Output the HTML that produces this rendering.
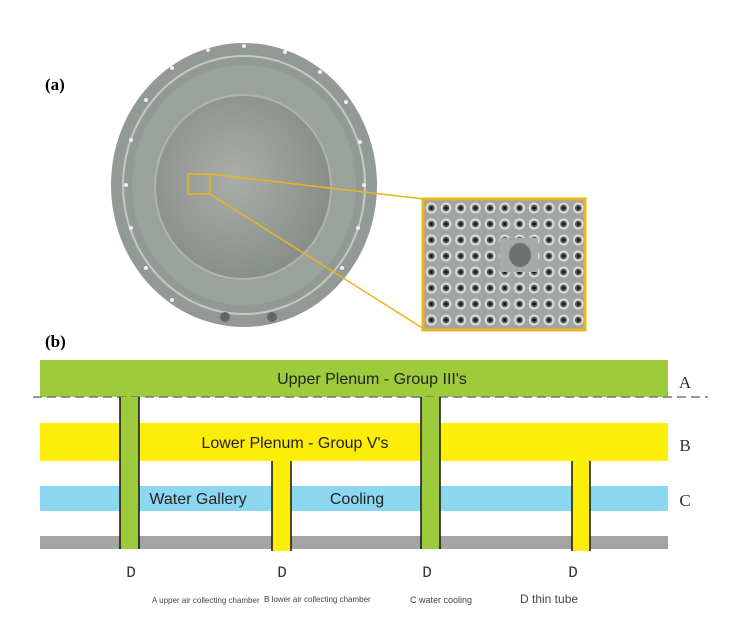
<!DOCTYPE html>
<html><head><style>
body{margin:0;background:#fff;}
svg{display:block;}
</style></head><body>
<svg width="747" height="622" viewBox="0 0 747 622" xmlns="http://www.w3.org/2000/svg">
<defs>
<radialGradient id="g1" cx="45%" cy="45%" r="60%"><stop offset="0" stop-color="#a9aeaa"/><stop offset="1" stop-color="#858b87"/></radialGradient>
<pattern id="dots" x="424" y="200" width="14.7" height="16" patternUnits="userSpaceOnUse">
<rect width="14.7" height="16" fill="#a2a5a3"/>
<circle cx="7.3" cy="8" r="5.5" fill="#dcdedc"/>
<circle cx="7.3" cy="8" r="3.4" fill="#5a5c5b"/>
<circle cx="7.3" cy="8" r="1.5" fill="#111"/>
</pattern>
</defs>
<text x="45" y="90" font-family="Liberation Serif, serif" font-weight="bold" font-size="17">(a)</text>
<ellipse cx="244" cy="185" rx="133" ry="142" fill="#939995"/>
<ellipse cx="244" cy="185" rx="121" ry="129" fill="none" stroke="#c5c9c6" stroke-width="2"/>
<ellipse cx="244" cy="185" rx="112" ry="120" fill="#9ba19d"/>
<ellipse cx="243" cy="187" rx="88" ry="92" fill="url(#g1)" stroke="#b0b4b1" stroke-width="2"/>
<g fill="#eee">
<circle cx="126" cy="185" r="2"/><circle cx="131" cy="140" r="2"/><circle cx="146" cy="100" r="2"/><circle cx="172" cy="68" r="2"/><circle cx="208" cy="50" r="2"/><circle cx="244" cy="46" r="2"/><circle cx="285" cy="52" r="2"/><circle cx="320" cy="72" r="2"/><circle cx="346" cy="102" r="2"/><circle cx="360" cy="142" r="2"/><circle cx="364" cy="185" r="2"/><circle cx="358" cy="228" r="2"/><circle cx="342" cy="268" r="2"/><circle cx="131" cy="228" r="2"/><circle cx="146" cy="268" r="2"/><circle cx="172" cy="300" r="2"/>
</g>
<circle cx="225" cy="317" r="5" fill="#666"/><circle cx="272" cy="317" r="5" fill="#666"/>
<g stroke="#e7b619" stroke-width="1.5" fill="none">
<rect x="188" y="174" width="22" height="20"/>
<line x1="210" y1="174" x2="424" y2="199"/>
<line x1="210" y1="194" x2="424" y2="329"/>
</g>
<rect x="423" y="199" width="162" height="131" fill="url(#dots)" stroke="#e9b51a" stroke-width="3"/>
<rect x="500" y="238" width="38" height="34" fill="#a8aaa8"/>
<ellipse cx="520" cy="255" rx="11" ry="12" fill="#6c706e"/>
<text x="45" y="347" font-family="Liberation Serif, serif" font-weight="bold" font-size="17">(b)</text>
<rect x="40" y="360" width="628" height="37" fill="#9ecb3c"/>
<rect x="40" y="423" width="628" height="38" fill="#fcee06"/>
<rect x="40" y="486" width="628" height="25" fill="#8cd7f0"/>
<rect x="40" y="536" width="628" height="13" fill="#a4a4a4"/>
<line x1="33" y1="397" x2="708" y2="397" stroke="#777" stroke-width="1.5" stroke-dasharray="9,5"/>
<rect x="120" y="397" width="19" height="152" fill="#9ecb3c"/>
<rect x="421" y="397" width="19" height="152" fill="#9ecb3c"/>
<rect x="272" y="461" width="19" height="90" fill="#fcee06"/>
<rect x="572" y="461" width="18" height="90" fill="#fcee06"/>
<g stroke="#111" stroke-width="1.5">
<line x1="120" y1="397" x2="120" y2="549"/><line x1="139" y1="397" x2="139" y2="549"/>
<line x1="421" y1="397" x2="421" y2="549"/><line x1="440" y1="397" x2="440" y2="549"/>
<line x1="272" y1="461" x2="272" y2="551"/><line x1="291" y1="461" x2="291" y2="551"/>
<line x1="572" y1="461" x2="572" y2="551"/><line x1="590" y1="461" x2="590" y2="551"/>
</g>
<g font-family="Liberation Sans, sans-serif" font-size="16" fill="#222" text-anchor="middle">
<text x="372" y="384">Upper Plenum - Group III's</text>
<text x="295" y="448">Lower Plenum - Group V's</text>
<text x="198" y="504">Water Gallery</text>
<text x="357" y="504">Cooling</text>
</g>
<g font-family="Liberation Serif, serif" font-size="17" fill="#333" text-anchor="middle">
<text x="685" y="388">A</text><text x="685" y="451">B</text><text x="685" y="506">C</text>
</g>
<g font-family="Liberation Mono, monospace" font-size="16" fill="#333" text-anchor="middle">
<text x="131" y="577">D</text><text x="282" y="577">D</text><text x="427" y="577">D</text><text x="573" y="577">D</text>
</g>
<g font-family="Liberation Sans, sans-serif" fill="#444">
<text x="152" y="603" font-size="8">A upper air collecting chamber</text>
<text x="264" y="602" font-size="8">B lower air collecting chamber</text>
<text x="410" y="603" font-size="9">C water cooling</text>
<text x="520" y="603" font-size="12">D thin tube</text>
</g>
</svg>
</body></html>
